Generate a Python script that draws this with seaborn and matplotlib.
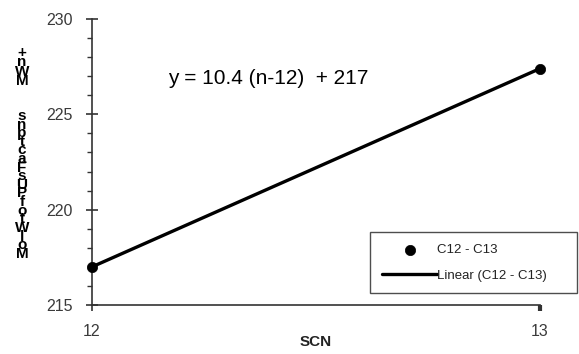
import matplotlib
matplotlib.use("Agg")
import matplotlib.pyplot as plt
from matplotlib.ticker import MultipleLocator
import seaborn as sns
import pandas as pd

# Carbon number vs. molecular weight
scn = [12, 13]
mol_wt = [217.0, 227.4]
slope = 10.4
intercept = 217
fit = [slope * (n - 12) + intercept for n in scn]

x_ticks = [12, 13]
y_ticks = [215, 220, 225, 230]
ylabel_top = "+nWM"
ylabel_rest = "snptcaFsUPfotWloM"

sns.set_theme(style="white")
plt.rcParams["font.family"] = ["Liberation Sans", "DejaVu Sans"]

df = pd.DataFrame({"SCN": scn, "MW": mol_wt, "fit": fit})

fig = plt.figure(figsize=(5.79, 3.54), dpi=100)
ax = fig.add_axes([92 / 579, 1 - 305 / 354, (540 - 92) / 579, (305 - 19) / 354])

sns.lineplot(data=df, x="SCN", y="fit", ax=ax, color="black", linewidth=2.4,
             label="Linear (C12 - C13)", zorder=2)
sns.scatterplot(data=df, x="SCN", y="MW", ax=ax, color="black", s=55,
                edgecolor="black", linewidth=0.5, label="C12 - C13", zorder=3,
                clip_on=False)

ax.set_xlim(12, 13)
ax.set_ylim(215, 230)
ax.set_xticks(x_ticks)
ax.set_xticklabels([str(v) for v in x_ticks])
ax.set_yticks(y_ticks)
ax.yaxis.set_minor_locator(MultipleLocator(1))

for side in ("top", "right"):
    ax.spines[side].set_visible(False)
for side in ("left", "bottom"):
    ax.spines[side].set_color("#333333")
    ax.spines[side].set_linewidth(1.2)

ax.tick_params(axis="y", which="major", direction="inout", length=8.6, width=1.2,
               color="#333333", labelsize=11.5, labelcolor="#3a3a3a", pad=9.4, left=True)
ax.tick_params(axis="y", which="minor", direction="out", length=3.6, width=1.0,
               color="#333333", left=True)
ax.tick_params(axis="x", which="major", direction="out", length=4.3, width=1.2,
               color="#333333", labelsize=11.5, labelcolor="#3a3a3a", pad=9.4, bottom=True)
ax.xaxis.get_major_ticks()[1].tick1line.set_markeredgewidth(3)

ax.set_xlabel("")
ax.set_ylabel("")
fig.text(316 / 579, 1 - 342 / 354, "SCN", ha="center", va="center",
         fontsize=11, fontweight="bold", color="#222222")

# stacked axis title
fig.text(22 / 579, 1 - 46 / 354, "\n".join(ylabel_top), ha="center", va="top",
         fontsize=11, fontweight="bold", linespacing=0.59, color="black")
fig.text(22 / 579, 1 - 109 / 354, "\n".join(ylabel_rest), ha="center", va="top",
         fontsize=11, fontweight="bold", linespacing=0.51, color="black")

ax.text(12.17, 226.9, "y = 10.4 (n-12)  + 217", fontsize=15, color="black",
        ha="left", va="center")

handles, labels = ax.get_legend_handles_labels()
order = [labels.index("C12 - C13"), labels.index("Linear (C12 - C13)")]
leg = ax.legend([handles[i] for i in order], [labels[i] for i in order],
                loc="upper left",
                bbox_to_anchor=(370 / 579, 1 - 232 / 354, (577 - 370) / 579, 0.0),
                bbox_transform=fig.transFigure, mode="expand",
                frameon=True, fancybox=False, fontsize=9.5, handlelength=4.2,
                handletextpad=0.0, borderpad=0.9, labelspacing=1.0,
                borderaxespad=0.0, markerscale=1.0)
leg.get_frame().set_edgecolor("#222222")
leg.get_frame().set_linewidth(1.0)
for t in leg.get_texts():
    t.set_color("#222222")

fig.savefig("out.png", dpi=100)
